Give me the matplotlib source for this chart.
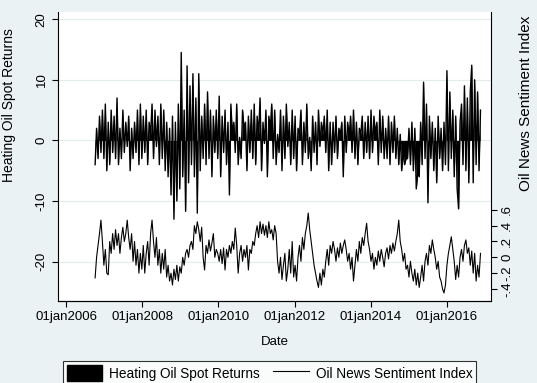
import matplotlib
matplotlib.use("Agg")
import matplotlib.pyplot as plt
from matplotlib.patches import Patch
from matplotlib.lines import Line2D
import pandas as pd

plt.rcParams["font.family"] = ["Liberation Sans", "DejaVu Sans"]

start_date = "2006-10-06"

ret_2006 = [-4, 2, -3, 4, -2, 5]
ret_2007 = [-3, 6, -5, 3, -4, 5, -2, 4, -3, 7, -4, 2, -3, 5, -2, 3, -1, 4, -5, 2, -3, 3, -2, 5, -4, 6]
ret_2008 = [-3, 4, -2, 5, -4, 3, 1, 6, -3, 5, -1, 4, -4, 6, -3, 5, -5, 3, -6, 2, -9, 4, -13, 3, -10, 6]
ret_2009 = [-8, 14.5, -6, 5, -11.7, 12.3, -7, 9, -4, 11, -6, 7, -12, 11, -5, 4, -3, 6, -4, 8, -3, 5, -6, 4, -2, 5]
ret_2010 = [-3, 7.3, -6, 4, -2, 5, -4, 3, -9, 6, 1, 3, -2, 6, -4, 0.5, -3, 5, 2, 3, -5, 4, -2, 5, -3, 6]
ret_2011 = [-4, 4, 1, 7, -5, 3, -0.5, 5, -6, 4, 2, 6, -3, 5, -4, 1, -2, 5, -5, 4, -3, 6, -1, 3, -4, 5]
ret_2012 = [-3, 4, -5, 2, 1, 5, -4, 3, -2, 6, -3, 0.5, -5, 4, -2, 3, -4, 5, -1, 3, 1, 4, -2, 5, -5, 3]
ret_2013 = [-4, 3, -2, 4, -3, 2, 1, 3, -6, 4, -2, 3, 0.5, 4, -2, 5, -3, 3, -4, 2, 1, 4, -3, 3, -2, 4]
ret_2014 = [-3, 5, -2, 4, 1, 3, -4, 5, -2, 4, -3, 2, -3, 4, -4, 3, -2, 4, -3, 2, -4, 1, -5, -2, -4, -3]
ret_2015 = [-3, 2, -4, 3, -5, 2, -8, -5.3, -6, 3, -4, 9.6, -3, 6, -10.3, 4, -3, 3, -5, 2, -7, 4, -3, 2, -5, 3]
ret_2016 = [-4, 11.5, -5, 8, -3, 5, -6, 4, -8, -11.3, 3, 6, -4, 9, -5, 7, -7, 8, 12.4, -7, 10, -4, 8, -5, 5]

sent_2006 = [-0.26, 0.0, 0.15, 0.3, 0.47, 0.2]
sent_2007 = [-0.1, 0.1, -0.2, -0.22, 0.2, 0.05, 0.3, 0.1, 0.35, 0.15, 0.3, 0.05, 0.25,
             0.38, 0.2, 0.3, 0.47, 0.25, 0.1, 0.3, -0.05, 0.2, -0.1, 0.1, -0.2, 0.05]
sent_2008 = [-0.15, 0.15, -0.2, 0.05, 0.2, -0.1, 0.3, 0.47, 0.2, 0.0, 0.25, -0.1, 0.1,
             -0.2, 0.05, -0.15, 0.1, -0.25, -0.1, -0.3, -0.2, -0.35, -0.15, -0.28, -0.1, -0.3]
sent_2009 = [-0.12, -0.2, 0.0, -0.1, 0.05, 0.1, 0.0, 0.15, 0.2, 0.1, 0.4, 0.3, 0.45,
             0.35, 0.2, 0.38, 0.0, -0.16, 0.15, 0.05, 0.22, 0.08, 0.18, 0.3, 0.0, 0.1]
sent_2010 = [0.05, -0.05, 0.1, -0.08, 0.12, -0.16, 0.1, 0.0, 0.15, 0.05, 0.2, 0.1, 0.37,
             0.15, -0.2, 0.05, 0.15, -0.05, 0.1, 0.0, 0.15, -0.16, 0.1, 0.05, 0.2, 0.15]
sent_2011 = [0.3, 0.4, 0.25, 0.45, 0.3, 0.42, 0.28, 0.4, 0.25, 0.45, 0.3, 0.35, 0.22,
             0.4, 0.3, -0.05, -0.2, 0.0, -0.28, -0.1, 0.05, -0.3, -0.15, 0.1, -0.2, 0.2]
sent_2012 = [-0.25, -0.1, -0.3, 0.0, 0.15, -0.05, 0.25, 0.1, 0.3, 0.4, 0.56, 0.35, 0.2,
             0.05, -0.1, -0.2, -0.3, -0.38, -0.2, -0.35, -0.15, -0.25, -0.05, 0.1, -0.1, 0.15]
sent_2013 = [0.05, 0.2, 0.1, -0.05, 0.12, 0.0, 0.18, 0.05, 0.15, 0.22, 0.1, -0.05, 0.05,
             -0.15, 0.0, -0.3, -0.1, 0.1, -0.05, 0.2, 0.05, 0.25, 0.15, 0.3, 0.43, 0.2]
sent_2014 = [0.1, -0.05, 0.05, -0.15, 0.0, -0.1, 0.08, -0.05, 0.1, 0.0, -0.12, 0.05, 0.12,
             -0.02, 0.15, 0.05, 0.18, 0.08, 0.2, 0.3, 0.47, 0.2, 0.1, -0.05, 0.05, -0.15]
sent_2015 = [-0.1, -0.25, -0.05, -0.2, -0.3, -0.15, -0.35, -0.2, -0.38, -0.25, -0.1, -0.3, -0.05,
             0.05, -0.1, 0.15, 0.05, 0.22, 0.1, 0.0, -0.15, -0.05, -0.25, -0.3, -0.4, -0.45]
sent_2016 = [-0.35, -0.1, 0.05, 0.15, 0.26, 0.1, -0.05, -0.28, -0.1, -0.25, 0.0, 0.1, -0.05,
             0.15, 0.22, 0.05, 0.12, -0.1, 0.08, -0.2, 0.05, -0.3, -0.1, -0.25, 0.05]

returns = (ret_2006 + ret_2007 + ret_2008 + ret_2009 + ret_2010 + ret_2011
           + ret_2012 + ret_2013 + ret_2014 + ret_2015 + ret_2016)
sentiment = (sent_2006 + sent_2007 + sent_2008 + sent_2009 + sent_2010 + sent_2011
             + sent_2012 + sent_2013 + sent_2014 + sent_2015 + sent_2016)

dates = pd.date_range(start_date, periods=len(returns), freq="14D")

left_ticks = [-20, -10, 0, 10, 20]
right_ticks = [-0.4, -0.2, 0, 0.2, 0.4, 0.6]
right_labels = ["-.4", "-.2", "0", ".2", ".4", ".6"]
x_ticks = ["2006-01-01", "2008-01-01", "2010-01-01", "2012-01-01", "2014-01-01", "2016-01-01"]

bg = "#eaf2f3"
fs = 9.5

fig = plt.figure(figsize=(5.37, 3.83), dpi=100, facecolor=bg)
ax = fig.add_axes([0.108, 0.214, 0.806, 0.755])
ax.set_facecolor("white")

# returns drawn as a filled area against zero, like Stata's area/bar look
ax.fill_between(dates, returns, 0, color="black", linewidth=0)
ax.plot(dates, returns, color="black", linewidth=1.0)
ax.set_ylim(-26.5, 21.2)
ax.set_yticks(left_ticks)
ax.set_yticklabels([str(t) for t in left_ticks], rotation=90, va="center", fontsize=fs)
ax.grid(axis="y", color="#e3ecec", linewidth=0.8)
ax.set_axisbelow(True)
ax.set_ylabel("Heating Oil Spot Returns", fontsize=fs + 0.5)
ax.yaxis.set_label_coords(-0.097, 0.678)

ax.set_xlim(pd.Timestamp("2005-10-15"), pd.Timestamp("2017-02-25"))
ax.set_xticks(pd.to_datetime(x_ticks))
ax.set_xticklabels([pd.Timestamp(t).strftime("%d%b%Y").lower() for t in x_ticks], fontsize=fs)
ax.set_xlabel("Date", fontsize=fs, labelpad=9)

ax.spines["top"].set_visible(False)
ax.spines["right"].set_visible(False)
ax.tick_params(direction="out", length=4, width=0.8)

# sentiment on the right axis
ax2 = ax.twinx()
ax2.plot(dates, sentiment, color="black", linewidth=0.8)
ax2.set_ylim(-0.552, 3.1)
ax2.set_yticks(right_ticks)
ax2.set_yticklabels(right_labels, rotation=90, va="center", fontsize=fs)
ax2.set_ylabel("Oil News Sentiment Index", fontsize=11)
ax2.yaxis.set_label_coords(1.065, 0.685)
ax2.spines["top"].set_visible(False)
ax2.spines["left"].set_visible(False)
ax2.tick_params(direction="out", length=4, width=0.8)

handles = [Patch(facecolor="black", edgecolor="black"),
           Line2D([], [], color="black", linewidth=0.8)]
leg = fig.legend(handles, ["Heating Oil Spot Returns", "Oil News Sentiment Index"],
                 loc="upper center", bbox_to_anchor=(0.502, 0.057), ncol=2,
                 fontsize=fs + 0.3, frameon=True, fancybox=False, edgecolor="black",
                 handlelength=2.6, handleheight=1.4, columnspacing=1.0,
                 handletextpad=0.5, borderpad=0.3, borderaxespad=0)
leg.get_frame().set_linewidth(0.8)

fig.savefig("out.png", dpi=100, facecolor=bg)
